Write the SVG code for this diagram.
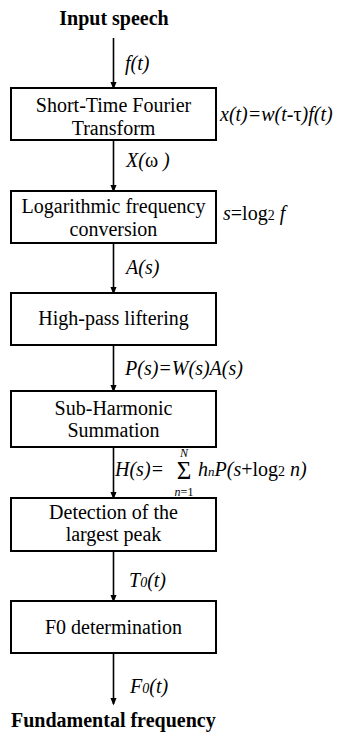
<svg xmlns="http://www.w3.org/2000/svg" width="339" height="736" viewBox="0 0 339 736">
<defs>
<marker id="ah" markerWidth="8" markerHeight="10" refX="8" refY="4" orient="auto" markerUnits="userSpaceOnUse" viewBox="0 0 10 8">
<path d="M0,0 L10,4 L0,8 Z" fill="#000"/>
</marker>
</defs>
<style>
.box{fill:#fff;stroke:#000;stroke-width:2}
.c{text-anchor:middle}
.b{font-weight:bold}
.i{font-style:italic}
.con{stroke:#000;stroke-width:1.6;fill:none;marker-end:url(#ah)}
</style>
<rect width="339" height="736" fill="#fff"/>
<g font-family="Liberation Serif, serif" font-size="20" fill="#000">
<text class="b c" x="114" y="25">Input speech</text>
<g id="connectors">
<line class="con" x1="113.5" y1="38" x2="113.5" y2="88"/>
<line class="con" x1="113.5" y1="140" x2="113.5" y2="191"/>
<line class="con" x1="113.5" y1="243" x2="113.5" y2="293"/>
<line class="con" x1="113.5" y1="345" x2="113.5" y2="391"/>
<line class="con" x1="113.5" y1="447" x2="113.5" y2="498"/>
<line class="con" x1="113.5" y1="551" x2="113.5" y2="601"/>
<line class="con" x1="113.5" y1="653" x2="113.5" y2="704"/>
<text class="i" x="125" y="70">f(t)</text>
<text class="i" x="126" y="167">X(<tspan font-style="normal">ω</tspan> )</text>
<text class="i" x="126" y="274">A(s)</text>
<text class="i" x="125" y="375">P(s)=W(s)A(s)</text>
<text class="i" x="115" y="476">H(s)=</text>
<text x="184" y="479" font-size="25" text-anchor="middle">Σ</text>
<text class="i c" x="184" y="457" font-size="12">N</text>
<text class="i c" x="184" y="496" font-size="12">n<tspan font-style="normal">=1</tspan></text>
<text class="i" x="198" y="476">h<tspan font-size="13">n</tspan>P(s<tspan font-style="normal">+log</tspan><tspan font-style="normal" font-size="14">2</tspan> n)</text>
<text class="i" x="129" y="587">T<tspan font-size="14">0</tspan>(t)</text>
<text class="i" x="130" y="693">F<tspan font-size="14">0</tspan>(t)</text>
</g>
<g id="stft">
<rect class="box" x="11" y="88" width="205" height="52"/>
<text class="c" x="113.5" y="112">Short-Time Fourier</text>
<text class="c" x="113.5" y="135">Transform</text>
</g>
<text class="i" x="220" y="121">x(t)=w(t-<tspan font-style="normal">τ</tspan>)f(t)</text>
<g id="logfreq">
<rect class="box" x="11" y="191" width="205" height="52"/>
<text class="c" x="113.5" y="213">Logarithmic frequency</text>
<text class="c" x="113.5" y="236">conversion</text>
</g>
<text x="223" y="220"><tspan font-style="italic">s</tspan>=log<tspan font-size="14">2</tspan> <tspan font-style="italic">f</tspan></text>
<g id="highpass">
<rect class="box" x="11" y="293" width="205" height="52"/>
<text class="c" x="113.5" y="325">High-pass liftering</text>
</g>
<g id="shs">
<rect class="box" x="11" y="391" width="205" height="56"/>
<text class="c" x="113.5" y="415">Sub-Harmonic</text>
<text class="c" x="113.5" y="437">Summation</text>
</g>
<g id="detect">
<rect class="box" x="11" y="498" width="205" height="53"/>
<text class="c" x="113.5" y="519">Detection of the</text>
<text class="c" x="113.5" y="541">largest peak</text>
</g>
<g id="f0det">
<rect class="box" x="11" y="601" width="205" height="52"/>
<text class="c" x="113.5" y="634">F0 determination</text>
</g>
<text class="b" x="11" y="727">Fundamental frequency</text>
</g>
</svg>
